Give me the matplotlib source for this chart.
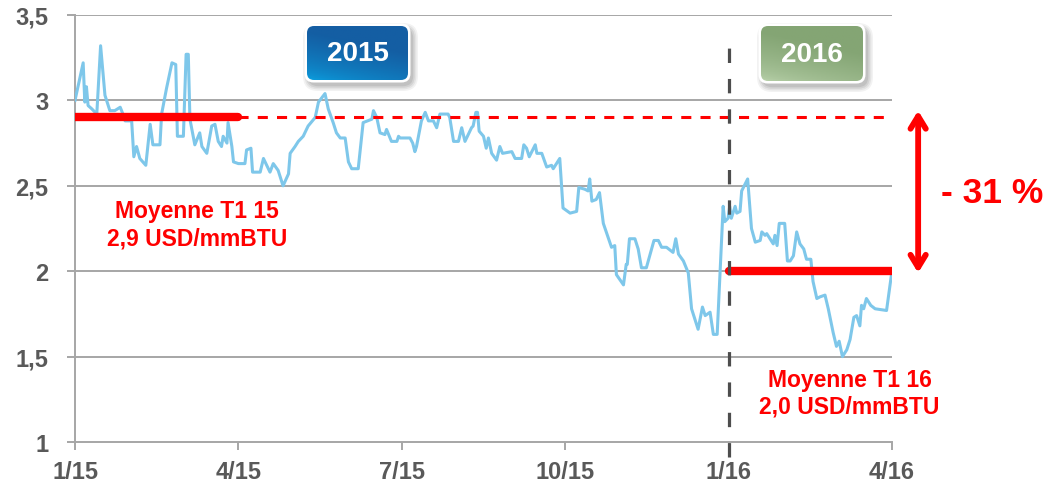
import numpy as np
import matplotlib
matplotlib.use("Agg")
import matplotlib.pyplot as plt
from matplotlib.patches import FancyBboxPatch

plt.rcParams['font.family'] = ['Liberation Sans', 'DejaVu Sans']

# ─────────────────────────────────────────────────────────────────────────────
# Data (x = months since 1/15, y = USD/mmBTU)
# ─────────────────────────────────────────────────────────────────────────────
months = [
    0.00, 0.15, 0.18, 0.21, 0.24, 0.31, 0.40, 0.47, 0.55, 0.64, 0.73, 0.83,
    0.88, 0.92, 1.04, 1.08, 1.13, 1.19, 1.30, 1.38, 1.43, 1.56, 1.59, 1.68,
    1.78, 1.85, 1.88, 1.99, 2.04, 2.08, 2.11, 2.20, 2.29, 2.33, 2.42, 2.51,
    2.57, 2.63, 2.69, 2.72, 2.79, 2.81, 2.88, 2.91, 3.00, 3.12, 3.15, 3.23,
    3.26, 3.40, 3.46, 3.52, 3.58, 3.64, 3.73, 3.82, 3.92, 3.95, 4.04, 4.10,
    4.19, 4.28, 4.41, 4.47, 4.59, 4.65, 4.74, 4.80, 4.87, 4.96, 5.02, 5.08,
    5.20, 5.29, 5.45, 5.48, 5.54, 5.60, 5.69, 5.72, 5.81, 5.91, 5.94, 5.97,
    6.15, 6.20, 6.24, 6.27, 6.36, 6.43, 6.49, 6.58, 6.64, 6.70, 6.85, 6.88,
    6.95, 7.04, 7.10, 7.16, 7.22, 7.28, 7.31, 7.36, 7.39, 7.42, 7.50, 7.55,
    7.59, 7.65, 7.74, 7.80, 7.85, 8.02, 8.08, 8.20, 8.24, 8.29, 8.34, 8.45,
    8.48, 8.57, 8.66, 8.75, 8.78, 8.90, 8.96, 9.09, 9.21, 9.25, 9.36, 9.42,
    9.45, 9.49, 9.57, 9.63, 9.70, 9.85, 9.91, 9.94, 10.07, 10.12, 10.14, 10.18,
    10.28, 10.34, 10.40, 10.49, 10.56, 10.63, 10.71, 10.77, 10.86, 10.98, 11.03, 11.08,
    11.17, 11.26, 11.32, 11.44, 11.52, 11.57, 11.66, 11.72, 11.79, 11.90, 11.93, 11.99,
    12.02, 12.05, 12.12, 12.15, 12.21, 12.24, 12.35, 12.42, 12.49, 12.58, 12.61, 12.67,
    12.70, 12.76, 12.82, 12.85, 12.89, 12.93, 13.03, 13.08, 13.13, 13.19, 13.25, 13.31,
    13.38, 13.43, 13.51, 13.55, 13.62, 13.68, 13.77, 13.83, 13.92, 13.98, 14.03, 14.09,
    14.17, 14.23, 14.30, 14.35, 14.41, 14.44, 14.48, 14.53, 14.61, 14.69, 14.90, 14.99,
]
prices = [
    3.00, 3.22, 2.99, 3.08, 2.97, 2.95, 2.92, 3.32, 3.03, 2.94, 2.94, 2.96,
    2.92, 2.88, 2.88, 2.67, 2.73, 2.66, 2.62, 2.86, 2.74, 2.74, 2.92, 3.07,
    3.22, 3.21, 2.79, 2.79, 3.27, 3.27, 2.89, 2.74, 2.81, 2.73, 2.69, 2.85,
    2.86, 2.76, 2.73, 2.79, 2.75, 2.87, 2.73, 2.64, 2.63, 2.63, 2.71, 2.72,
    2.58, 2.58, 2.66, 2.62, 2.58, 2.63, 2.59, 2.50, 2.57, 2.69, 2.73, 2.76,
    2.79, 2.85, 2.90, 2.99, 3.04, 2.95, 2.87, 2.81, 2.78, 2.78, 2.64, 2.60,
    2.60, 2.87, 2.89, 2.94, 2.90, 2.81, 2.80, 2.83, 2.76, 2.76, 2.79, 2.78,
    2.78, 2.75, 2.70, 2.73, 2.88, 2.93, 2.88, 2.88, 2.84, 2.92, 2.92, 2.90,
    2.76, 2.76, 2.84, 2.76, 2.80, 2.84, 2.85, 2.93, 2.93, 2.82, 2.79, 2.72,
    2.78, 2.69, 2.65, 2.73, 2.69, 2.70, 2.66, 2.66, 2.74, 2.72, 2.67, 2.74,
    2.69, 2.69, 2.61, 2.62, 2.60, 2.66, 2.37, 2.34, 2.35, 2.49, 2.48, 2.47,
    2.54, 2.41, 2.42, 2.46, 2.28, 2.14, 2.15, 1.98, 1.92, 2.04, 2.04, 2.19,
    2.19, 2.13, 2.02, 2.02, 2.10, 2.18, 2.18, 2.14, 2.14, 2.11, 2.19, 2.10,
    2.06, 1.99, 1.78, 1.66, 1.79, 1.74, 1.76, 1.63, 1.63, 2.38, 2.29, 2.31,
    2.38, 2.31, 2.38, 2.34, 2.35, 2.47, 2.54, 2.25, 2.17, 2.18, 2.23, 2.21,
    2.22, 2.19, 2.16, 2.21, 2.15, 2.28, 2.28, 2.06, 2.06, 2.09, 2.23, 2.16,
    2.13, 2.07, 2.07, 1.94, 1.84, 1.85, 1.86, 1.78, 1.64, 1.56, 1.59, 1.50,
    1.54, 1.60, 1.73, 1.74, 1.68, 1.80, 1.78, 1.84, 1.80, 1.78, 1.77, 1.98,
]

tick_months = [0, 3, 6, 9, 12, 15]
tick_labels = ["1/15", "4/15", "7/15", "10/15", "1/16", "4/16"]
y_ticks = [1, 1.5, 2, 2.5, 3, 3.5]
y_labels = ["1", "1,5", "2", "2,5", "3", "3,5"]

avg_q1_15 = 2.9
avg_q1_16 = 2.0

RED = "#ff0000"
BLUE_LINE = "#7ec7ea"
GRID = "#a6a6a6"
TXT = "#595959"


def year_badge(fig, rect_px, text, c_dark, c_light):
    """Rounded gradient label box placed in figure pixel coordinates."""
    W, H = 1050, 489
    x0, y0, x1, y1 = rect_px
    w, h = x1 - x0, y1 - y0
    bax = fig.add_axes([(x0 - 10) / W, 1 - (y1 + 13) / H,
                        (w + 22) / W, (h + 23) / H])
    bax.axis("off")

    # gradient fill, clipped to a rounded box
    box = FancyBboxPatch((0, 0), w, h, boxstyle="round,pad=0,rounding_size=7",
                         fc="none", ec="none", zorder=3)
    bax.add_patch(box)
    gx, gy = np.meshgrid(np.linspace(0, 1, 60), np.linspace(0, 1, 30))
    t = np.clip(0.45 * gx + 1.1 * gy, 0, 1) ** 0.55
    c1 = np.array(matplotlib.colors.to_rgb(c_light))
    c2 = np.array(matplotlib.colors.to_rgb(c_dark))
    img = c1[None, None, :] * (1 - t[..., None]) + c2[None, None, :] * t[..., None]
    im = bax.imshow(img, extent=[0, w, 0, h], origin="lower", aspect="auto",
                    zorder=3)
    im.set_clip_path(box)

    # soft shadow + white rim underneath
    for k, a in enumerate([0.05, 0.06, 0.07, 0.08]):
        grow = 7 - 1.6 * k
        sh = FancyBboxPatch((-grow + 3, -grow - 4), w + 2 * grow, h + 2 * grow,
                            boxstyle=f"round,pad=0,rounding_size={8 + grow}",
                            fc="#000000", ec="none", alpha=a, zorder=1)
        bax.add_patch(sh)
    border = FancyBboxPatch((-2.5, -2.5), w + 5, h + 5,
                            boxstyle="round,pad=0,rounding_size=9",
                            fc="white", ec="none", zorder=2)
    bax.add_patch(border)

    bax.text(w / 2, h / 2, text, color="white", fontsize=20, fontweight="bold",
             ha="center", va="center", zorder=4)
    bax.set_xlim(-10, w + 12)
    bax.set_ylim(-13, h + 10)


fig = plt.figure(figsize=(10.5, 4.89), dpi=100)
ax = fig.add_axes([75 / 1050, 1 - 443 / 489, 817 / 1050, 427 / 489])

ax.set_xlim(0, 15)
ax.set_ylim(1, 3.5)

for yv in y_ticks[1:]:
    ax.axhline(yv, color=GRID, lw=1.4, zorder=1)

ax.plot(months, prices, color=BLUE_LINE, lw=2.2, zorder=3)

# Q1 averages
ax.plot([0, 3], [avg_q1_15, avg_q1_15], color=RED, lw=6, solid_capstyle="round",
        zorder=4)
ax.plot([3, 15], [avg_q1_15, avg_q1_15], color=RED, lw=2.2,
        linestyle=(0, (3.3, 3)), zorder=4)
ax.plot([12, 15], [avg_q1_16, avg_q1_16], color=RED, lw=6, solid_capstyle="round",
        zorder=4)

# year separator
ax.plot([12, 12], [0.91, 3.38], color="#4d4d4d", lw=2.3,
        linestyle=(0, (4.5, 5)), clip_on=False, zorder=5)

# axes styling
for side in ["top", "right"]:
    ax.spines[side].set_visible(False)
for side in ["left", "bottom"]:
    ax.spines[side].set_color(GRID)
    ax.spines[side].set_linewidth(1.4)
ax.set_xticks(tick_months)
ax.set_xticklabels(tick_labels)
ax.set_yticks(y_ticks)
ax.set_yticklabels(y_labels)
ax.tick_params(axis="both", colors=GRID, length=6, width=1.4,
               labelcolor=TXT, labelsize=17)
ax.tick_params(axis="y", pad=13)
ax.tick_params(axis="x", pad=7)
for lbl in ax.get_xticklabels() + ax.get_yticklabels():
    lbl.set_fontweight("bold")

# annotations
ax.text(2.24, 2.275, "Moyenne T1 15\n2,9 USD/mmBTU", color=RED, fontsize=16.5,
        fontweight="bold", ha="center", va="center", linespacing=1.2)
ax.text(14.22, 1.29, "Moyenne T1 16\n2,0 USD/mmBTU", color=RED, fontsize=16.5,
        fontweight="bold", ha="center", va="center", linespacing=1.2,
        clip_on=False)

ax.annotate("", xy=(15.48, 1.99), xytext=(15.48, 2.94),
            arrowprops=dict(arrowstyle="<->,head_length=0.9,head_width=0.55",
                            color=RED, lw=4.2, shrinkA=0, shrinkB=0),
            annotation_clip=False)
ax.text(16.84, 2.46, "- 31 %", color=RED, fontsize=25.5, fontweight="bold",
        ha="center", va="center", clip_on=False)

year_badge(fig, (307, 27, 408, 81), "2015", "#145ea3", "#0aa3e3")
year_badge(fig, (761, 27, 863, 82), "2016", "#84a574", "#bcd4ae")

fig.savefig("out.png", dpi=100)
